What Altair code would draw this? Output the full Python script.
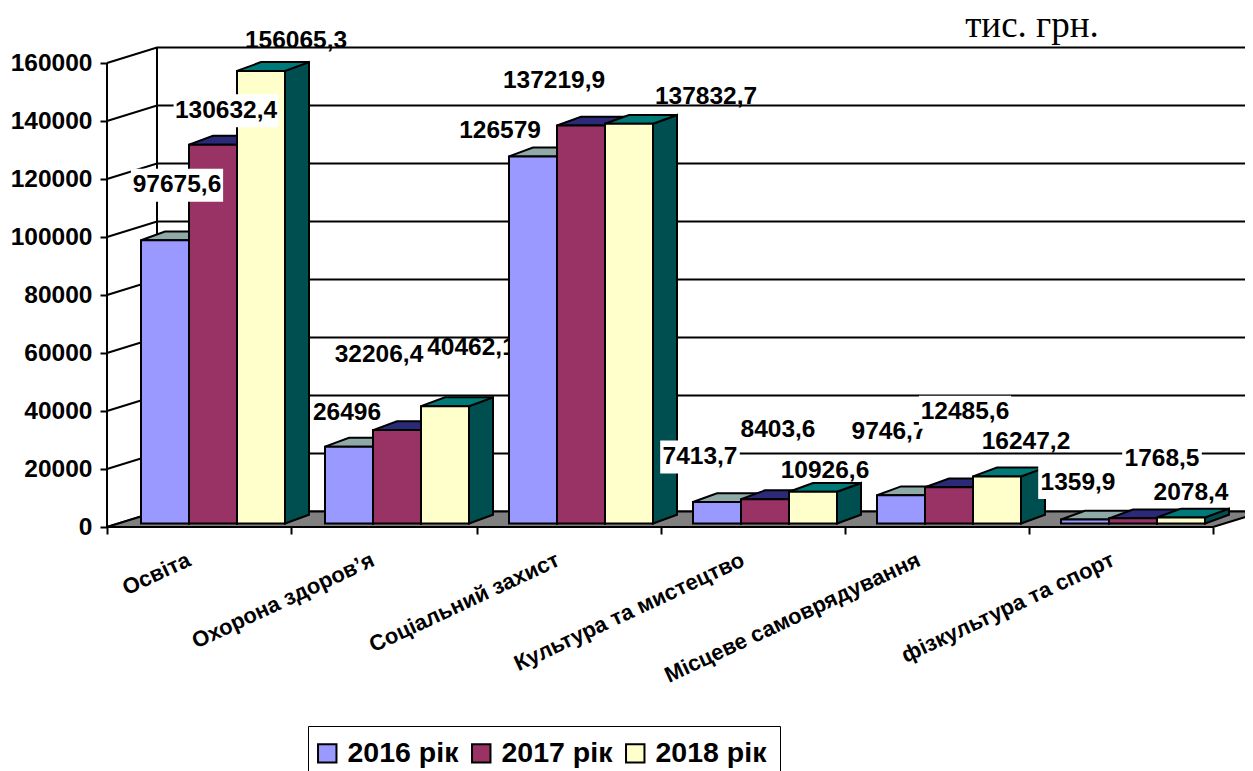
import altair as alt
import pandas as pd

CATEGORIES = ["Освіта", "Охорона здоров’я", "Соціальний захист",
              "Культура та мистецтво", "Місцеве самоврядування", "фізкультура та спорт"]
SERIES = ["2016 рік", "2017 рік", "2018 рік"]
V2016 = [97675.6, 26496, 126579, 7413.7, 9746.7, 1359.9]
V2017 = [130632.4, 32206.4, 137219.9, 8403.6, 12485.6, 1768.5]
V2018 = [156065.3, 40462.1, 137832.7, 10926.6, 16247.2, 2078.4]
LABELS = [["97675,6", "26496", "126579", "7413,7", "9746,7", "1359,9"],
          ["130632,4", "32206,4", "137219,9", "8403,6", "12485,6", "1768,5"],
          ["156065,3", "40462,1", "137832,7", "10926,6", "16247,2", "2078,4"]]
Y_TICKS = [0, 20000, 40000, 60000, 80000, 100000, 120000, 140000, 160000]

FRONT = ["#9999FF", "#993366", "#FFFFCC"]
TOP = ["#8FA8A8", "#2A2A78", "#007A78"]
SIDE = ["#6E7FA0", "#1E1E55", "#004F50"]

# label displacement from the top-centre of its bar's front face (px right, px down)
DX = [[12, -2, -33, -17, -12, -7], [13, -18, -27, 13, 16, 29], [35, 26.5, 77, 12, 29, 10]]
DY = [[-55, -34, -25, -45, -63, -37], [-34, -75, -45, -69, -75, -59], [-30, -58, -27, -21, -34, -24.5]]
BOXED = {(0, 0), (1, 0), (0, 3), (1, 4), (0, 5), (1, 5)}
CAT_NUDGE = [0, 0, 1, 2, -6, 4]

W, H = 1237, 763
ZERO_PX, PX_PER_UNIT = 527.0, 464.0 / 160000
UNIT = 1 / PX_PER_UNIT
AXIS_X, WALL_DX, WALL_DY = 107, 50, 15.5
BAR0, BAR_W, GROUP_STEP, DEPTH_X, DEPTH_Y, BAR_LIFT = 141, 48, 184, 24, 8.8, 3.5
FONT = "Liberation Sans"


def vy(p):
    return (ZERO_PX - p) * UNIT


tick_x = [107, 291, 477, 661, 845, 1029, 1213]
right_end = tick_x[-1]

xs = alt.Scale(domain=[8, 8 + W], nice=False, zero=False)
ys = alt.Scale(domain=[vy(8 + H), vy(8)], nice=False, zero=False)
AX = alt.Axis(values=tick_x, labels=False, domain=False, grid=False, tickColor="black",
              tickWidth=2, tickSize=7, offset=-(8 + H - ZERO_PX), title=None)
AY = alt.Axis(values=Y_TICKS, domain=False, grid=False, tickColor="black", tickWidth=2, tickSize=7,
              labelFont=FONT, labelFontWeight="bold", labelFontSize=24.5, labelColor="black",
              labelPadding=8, format="d", offset=-(AXIS_X - 8), title=None, labelOverlap=False)
X = alt.X("x:Q", scale=xs, axis=AX)
Y = alt.Y("y:Q", scale=ys, axis=AY)
X2 = alt.X2("x2:Q")
Y2 = alt.Y2("y2:Q")

# walls
wall = []
for t in Y_TICKS:
    back = t + WALL_DY * UNIT
    wall += [dict(k=f"g{t}", x=AXIS_X, y=t), dict(k=f"g{t}", x=AXIS_X + WALL_DX, y=back),
             dict(k=f"g{t}", x=8 + W + 2, y=back)]
wall += [dict(k="v1", x=AXIS_X, y=0), dict(k="v1", x=AXIS_X, y=Y_TICKS[-1]),
         dict(k="v2", x=AXIS_X + WALL_DX, y=WALL_DY * UNIT),
         dict(k="v2", x=AXIS_X + WALL_DX, y=Y_TICKS[-1] + WALL_DY * UNIT)]
wall_layer = alt.Chart(pd.DataFrame(wall)).mark_line(color="black", strokeWidth=2).encode(
    x=X, y=Y, detail="k:N", order=alt.Order("y:Q"))

# floor
fb = WALL_DY * UNIT
floor = pd.DataFrame([
    dict(x=AXIS_X, y=0, y2=0),
    dict(x=AXIS_X + WALL_DX, y=0, y2=fb),
    dict(x=right_end, y=0, y2=fb),
    dict(x=right_end + WALL_DX, y=fb, y2=fb),
])
floor_layer = alt.Chart(floor).mark_area(fill="#808080", stroke="black", strokeWidth=2,
                                          clip=True).encode(x=X, y=Y, y2=Y2)

layers = [wall_layer, floor_layer]
VALUES = [V2016, V2017, V2018]

for g, cat in enumerate(CATEGORIES):
    polys, fronts, labels = [], [], []
    for s in range(3):
        v = VALUES[s][g]
        x0 = BAR0 + GROUP_STEP * g + BAR_W * s
        x1 = x0 + BAR_W
        ybase = BAR_LIFT * UNIT
        top = v + ybase
        d = DEPTH_Y * UNIT
        fronts.append(dict(x=x0, x2=x1, y=ybase, y2=top, series=SERIES[s]))
        # side face
        polys += [dict(k=f"s{s}", c=SIDE[s], x=x1, y=ybase, y2=top),
                  dict(k=f"s{s}", c=SIDE[s], x=x1 + DEPTH_X, y=ybase + d, y2=top + d)]
        # top face
        polys += [dict(k=f"t{s}", c=TOP[s], x=x0, y=top, y2=top),
                  dict(k=f"t{s}", c=TOP[s], x=x0 + DEPTH_X, y=top, y2=top + d),
                  dict(k=f"t{s}", c=TOP[s], x=x1, y=top, y2=top + d),
                  dict(k=f"t{s}", c=TOP[s], x=x1 + DEPTH_X, y=top + d, y2=top + d)]
        cx = (x0 + x1) / 2 + DX[s][g]
        cy = top - DY[s][g] * UNIT
        text = LABELS[s][g]
        box = None
        if (s, g) in BOXED:
            half = len(text) * 6.3 + 2
            box = dict(x=cx - half, x2=cx + half, y=cy - 16.5 * UNIT, y2=cy + 16.5 * UNIT)
        labels.append((box, dict(x=cx, y=cy, t=text)))
    layers.append(alt.Chart(pd.DataFrame(polys)).mark_area(stroke="black", strokeWidth=2).encode(
        x=X, y=Y, y2=Y2, fill=alt.Fill("c:N", scale=None, legend=None), detail="k:N"))
    layers.append(alt.Chart(pd.DataFrame(fronts)).mark_rect(stroke="black", strokeWidth=2).encode(
        x=X, x2=X2, y=Y, y2=Y2,
        color=alt.Color("series:N", scale=alt.Scale(domain=SERIES, range=FRONT), sort=SERIES,
                        legend=alt.Legend(
                            title=None, orient="none", legendX=300, legendY=718,
                            direction="horizontal", columns=3, strokeColor="black",
                            fillColor="white", padding=13, symbolType="square", symbolSize=340,
                            symbolOffset=-8, symbolStrokeColor="black", symbolStrokeWidth=2,
                            labelFont=FONT, labelFontWeight="bold", labelFontSize=28.5,
                            labelColor="black", labelOffset=6, columnPadding=9, labelLimit=200))))
    for box, text_row in labels:
        if box:
            layers.append(alt.Chart(pd.DataFrame([box])).mark_rect(fill="white", stroke=None).encode(
                x=X, x2=X2, y=Y, y2=Y2))
        layers.append(alt.Chart(pd.DataFrame([text_row])).mark_text(
            font=FONT, fontWeight="bold", fontSize=24.5, color="black", align="center",
            baseline="middle").encode(x=X, y=Y, text="t:N"))

cat_df = pd.DataFrame([dict(x=BAR0 + 51 + GROUP_STEP * i + CAT_NUDGE[i], y=vy(565), t=c)
                       for i, c in enumerate(CATEGORIES)])
layers.append(alt.Chart(cat_df).mark_text(
    font=FONT, fontWeight="bold", fontSize=22, color="black", align="right",
    baseline="alphabetic", angle=335).encode(x=X, y=Y, text="t:N"))

unit_df = pd.DataFrame([dict(x=1032, y=vy(37), t="тис. грн.")])
layers.append(alt.Chart(unit_df).mark_text(
    font="Liberation Serif", fontSize=37, color="black", align="center",
    baseline="alphabetic").encode(x=X, y=Y, text="t:N"))

chart = alt.layer(*layers).properties(
    width=W, height=H, padding=0, background="white",
    autosize=alt.AutoSizeParams(type="none")
).configure_view(stroke=None)

chart.save("out.html", embed_options={"renderer": "svg", "actions": False})
